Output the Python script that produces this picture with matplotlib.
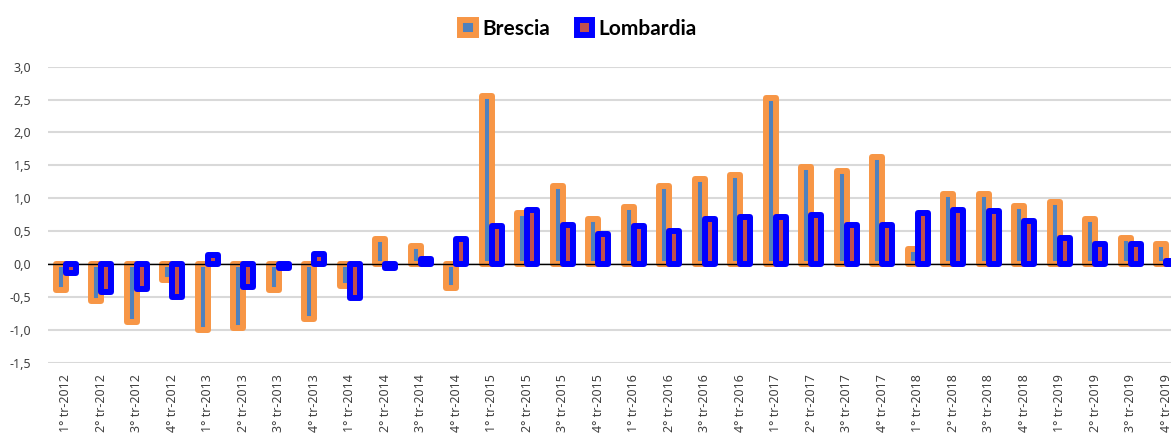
import matplotlib.pyplot as plt
import numpy as np

years = [2012, 2013, 2014, 2015, 2016, 2017, 2018, 2019]
labels = [f"{q}° tr-{y}" for y in years for q in (1, 2, 3, 4)]

brescia = [-0.39, -0.56, -0.88, -0.25, -1.00, -0.98, -0.40, -0.83,
           -0.34, 0.38, 0.27, -0.36, 2.56, 0.78, 1.19, 0.68,
           0.86, 1.19, 1.29, 1.36, 2.52, 1.48, 1.42, 1.62,
           0.23, 1.07, 1.07, 0.88, 0.94, 0.69, 0.39, 0.30]
lombardia = [-0.13, -0.43, -0.38, -0.50, 0.14, -0.35, -0.06, 0.15,
             -0.51, -0.06, 0.07, 0.38, 0.58, 0.82, 0.59, 0.46,
             0.58, 0.50, 0.68, 0.71, 0.71, 0.74, 0.60, 0.60,
             0.77, 0.82, 0.80, 0.65, 0.40, 0.30, 0.30, 0.05]

plt.rcParams['font.family'] = ['Noto Sans', 'DejaVu Sans']

W, H = 1171, 434
fig = plt.figure(figsize=(W / 100, H / 100), dpi=100)
ax = fig.add_axes([48 / W, 71.3 / H, 1136 / W, 296 / H])

x = np.arange(len(labels))
w = 0.28
lw = 4.3

b1 = ax.bar(x - w / 2, brescia, w, color="#4F81BD", edgecolor="#F79646",
            linewidth=lw, label="Brescia", zorder=2)
b2 = ax.bar(x + w / 2, lombardia, w, color="#C0504D", edgecolor="#0000FF",
            linewidth=lw, label="Lombardia", zorder=4)
for p in list(b1) + list(b2):
    p.set_joinstyle("round")

ax.set_xlim(-0.5, len(labels) - 0.5)
ax.set_ylim(-1.5, 3.0)
yt = np.arange(-1.5, 3.01, 0.5)
ax.set_yticks(yt)
ax.set_yticklabels([f"{v:.1f}".replace(".", ",") for v in yt])
ax.set_xticks(x)
ax.set_xticklabels(labels, rotation=90)
ax.tick_params(axis="both", length=0, labelsize=9, colors="#404040")
ax.tick_params(axis="y", pad=12)
ax.tick_params(axis="x", pad=8)

ax.grid(axis="y", color="#D9D9D9", linewidth=1.5, zorder=0)
ax.set_axisbelow(True)
ax.axhline(0, color="black", linewidth=1, zorder=3)
for s in ax.spines.values():
    s.set_visible(False)

fig.legend(handles=[b1, b2], loc="upper center", bbox_to_anchor=(0.494, 1.0),
           ncol=2, frameon=False, prop={"family": "Lato", "weight": "bold", "size": 15},
           handlelength=0.75, handleheight=0.75, handletextpad=0.3, columnspacing=1.3)

fig.savefig("out.png", dpi=100)
